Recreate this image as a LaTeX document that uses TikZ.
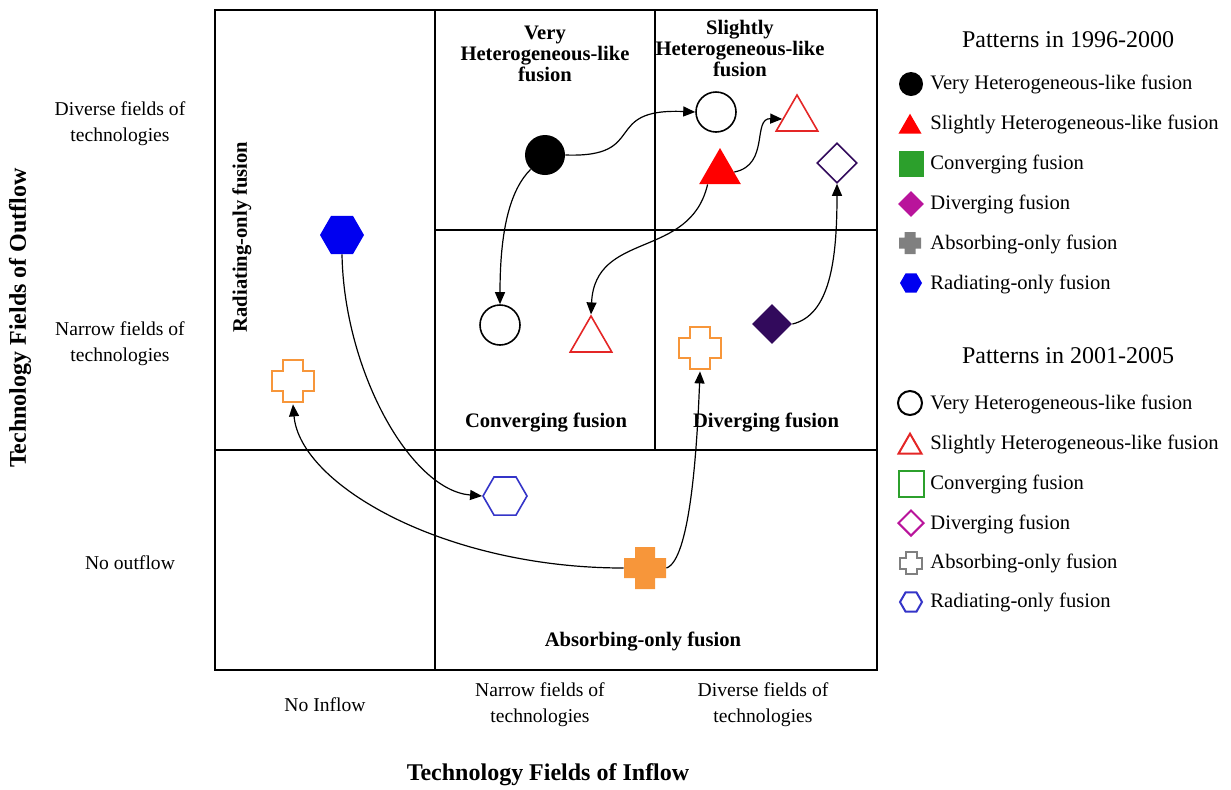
\documentclass[tikz,border=0pt]{standalone}
\usepackage{fontspec}
\setmainfont{Liberation Serif}
\usepackage{tikz}
\usetikzlibrary{shapes.geometric, arrows.meta, positioning, calc}
\definecolor{shred}{RGB}{255, 0, 0}
\definecolor{shredline}{RGB}{228, 38, 38}
\definecolor{convgreen}{RGB}{44, 160, 44}
\definecolor{divmagenta}{RGB}{185, 20, 155}
\definecolor{divpurple}{RGB}{50, 10, 92}
\definecolor{absgray}{RGB}{128, 128, 128}
\definecolor{absorange}{RGB}{247, 150, 58}
\definecolor{radblue}{RGB}{0, 0, 240}
\definecolor{radblueline}{RGB}{52, 52, 200}

% plus outline around a named node: style, node, outer half, arm half
\newcommand{\plusat}[4]{%
    \draw[#1, shift={(#2.center)}] (-#4,#3) -- (#4,#3) -- (#4,#4) -- (#3,#4) -- (#3,-#4) -- (#4,-#4)
        -- (#4,-#3) -- (-#4,-#3) -- (-#4,-#4) -- (-#3,-#4) -- (-#3,#4) -- (-#4,#4) -- cycle;}

\begin{document}
\begin{tikzpicture}[
    x=0.5pt, y=0.5pt,
    frame/.style={line width=1.2pt},
    link/.style={line width=0.6pt, -{Triangle[length=6pt,width=5pt]}},
    celltitle/.style={font=\bfseries\fontsize{10.3}{10.5}\selectfont, align=center},
    axislabel/.style={font=\fontsize{9.8}{13}\selectfont, align=center},
    axistitle/.style={font=\bfseries\fontsize{12}{14}\selectfont},
    legtitle/.style={font=\fontsize{12}{14}\selectfont},
    legtext/.style={font=\fontsize{10.3}{12}\selectfont, anchor=west, inner sep=0pt},
    circ/.style={circle, inner sep=0pt, minimum size=20pt},
    tri/.style={regular polygon, regular polygon sides=3, inner sep=0pt, minimum size=24pt},
    dia/.style={diamond, inner sep=0pt, minimum size=20pt},
    hexa/.style={regular polygon, regular polygon sides=6, inner sep=0pt, minimum size=22pt},
    plusbox/.style={inner sep=0pt, minimum size=21pt},
    smallcirc/.style={circle, inner sep=0pt, minimum size=12pt},
    smalltri/.style={regular polygon, regular polygon sides=3, inner sep=0pt, minimum size=13.3pt},
    smallsq/.style={rectangle, inner sep=0pt, minimum width=12.5pt, minimum height=13pt},
    smalldia/.style={diamond, inner sep=0pt, minimum size=13pt},
    smallhexa/.style={regular polygon, regular polygon sides=6, inner sep=0pt, minimum size=11pt},
    smallplus/.style={inner sep=0pt, minimum size=11pt}
]
    \useasboundingbox (0,0) rectangle (1231,-789);

    % Grid
    \draw[frame] (215,-10) rectangle (877,-670);
    \draw[frame] (435,-10) -- (435,-670);
    \draw[frame] (655,-10) -- (655,-450);
    \draw[frame] (435,-230) -- (877,-230);
    \draw[frame] (215,-450) -- (877,-450);

    % Cell titles
    \node[celltitle] (vhtitle) at (545,-54) {Very\\Heterogeneous-like\\fusion};
    \node[celltitle] (shtitle) at (740,-48) {Slightly\\Heterogeneous-like\\fusion};
    \node[celltitle] (cvtitle) at (546,-423) {Converging fusion};
    \node[celltitle] (dvtitle) at (766,-423) {Diverging fusion};
    \node[celltitle] (abtitle) at (643,-642) {Absorbing-only fusion};
    \node[celltitle, rotate=90] (rotitle) at (242,-237) {Radiating-only fusion};

    % Axes
    \node[axislabel] (ydiverse) at (120,-124) {Diverse fields of\\technologies};
    \node[axislabel] (ynarrow) at (120,-344) {Narrow fields of\\technologies};
    \node[axislabel] (ynone) at (130,-563) {No outflow};
    \node[axislabel] (xnone) at (325,-705) {No Inflow};
    \node[axislabel] (xnarrow) at (540,-705) {Narrow fields of\\technologies};
    \node[axislabel] (xdiverse) at (763,-705) {Diverse fields of\\technologies};
    \node[axistitle] (xtitle) at (548,-775) {Technology Fields of Inflow};
    \node[axistitle, rotate=90] (ytitle) at (20,-318) {Technology Fields of Outflow};

    % Patterns 1996-2000
    \node[circ, fill=black] (vhold) at (545,-155) {};
    \node[tri, fill=shred] (shold) at (720,-172) {};
    \node[dia, fill=divpurple] (dvold) at (772,-324) {};
    \node[hexa, fill=radblue] (roold) at (342,-235) {};
    \node[plusbox] (abold) at (645,-568) {};
    \plusat{fill=absorange, draw=none}{abold}{21}{10}

    % Patterns 2001-2005
    \node[circ, draw=black, line width=0.8pt] (vhnew) at (716,-112) {};
    \node[circ, draw=black, line width=0.8pt] (vhnewb) at (500,-325) {};
    \node[tri, draw=shredline, line width=0.8pt] (shnew) at (797,-119) {};
    \node[tri, draw=shredline, line width=0.8pt] (shnewb) at (591,-340) {};
    \node[dia, draw=divpurple, line width=0.8pt] (dvnew) at (837,-163) {};
    \node[hexa, draw=radblueline, line width=0.8pt] (ronew) at (505,-496) {};
    \node[plusbox] (abnew) at (293,-381) {};
    \plusat{draw=absorange, line width=0.8pt}{abnew}{21}{10}
    \node[plusbox] (abnewb) at (700,-348) {};
    \plusat{draw=absorange, line width=0.8pt}{abnewb}{21}{10}

    % Shifts
    \draw[link] (vhold.south west) .. controls (510,-190) and (500,-230) .. (vhnewb.north);
    \draw[link] (vhold.east) .. controls (650,-158) and (600,-108) .. (vhnew.west);
    \draw[link] (shold.south west) .. controls (690,-260) and (595,-230) .. (shnewb.north);
    \draw[link] (shold.east) .. controls (770,-165) and (752,-118) .. (shnew.west);
    \draw[link] (dvold.east) .. controls (830,-315) and (837,-260) .. (dvnew.south);
    \draw[link] (roold.south) .. controls (344,-370) and (410,-490) .. (ronew.west);
    \draw[link] (abold.west) .. controls (445,-568) and (300,-485) .. ($(abnew.south)+(0,-2)$);
    \draw[link] (abold.east) .. controls (690,-560) and (697,-450) .. ($(abnewb.south)+(0,-2)$);

    % Legend 1996-2000
    \node[legtitle] (legold) at (1068,-40) {Patterns in 1996-2000};
    \node[smallcirc, fill=black] (lgoa) at (911,-84) {};
    \node[legtext] (lgoatext) at (930,-84) {Very Heterogeneous-like fusion};
    \node[smalltri, fill=shred] (lgob) at (910,-127) {};
    \node[legtext] (lgobtext) at (930,-124) {Slightly Heterogeneous-like fusion};
    \node[smallsq, fill=convgreen] (lgoc) at (911,-164) {};
    \node[legtext] (lgoctext) at (930,-164) {Converging fusion};
    \node[smalldia, fill=divmagenta] (lgod) at (911,-204) {};
    \node[legtext] (lgodtext) at (930,-204) {Diverging fusion};
    \node[smallplus] (lgoe) at (910,-243) {};
    \plusat{fill=absgray, draw=none}{lgoe}{11}{5.5}
    \node[legtext] (lgoetext) at (930,-244) {Absorbing-only fusion};
    \node[smallhexa, fill=radblue] (lgof) at (911,-283) {};
    \node[legtext] (lgoftext) at (930,-284) {Radiating-only fusion};

    % Legend 2001-2005
    \node[legtitle] (legnew) at (1068,-356) {Patterns in 2001-2005};
    \node[smallcirc, draw=black, line width=1pt] (lgna) at (910,-403) {};
    \node[legtext] (lgnatext) at (930,-404) {Very Heterogeneous-like fusion};
    \node[smalltri, draw=shredline, line width=1pt] (lgnb) at (910,-447) {};
    \node[legtext] (lgnbtext) at (930,-444) {Slightly Heterogeneous-like fusion};
    \node[smallsq, draw=convgreen, line width=1pt] (lgnc) at (911,-484) {};
    \node[legtext] (lgnctext) at (930,-484) {Converging fusion};
    \node[smalldia, draw=divmagenta, line width=1pt] (lgnd) at (911,-523) {};
    \node[legtext] (lgndtext) at (930,-524) {Diverging fusion};
    \node[smallplus] (lgne) at (911,-563) {};
    \plusat{draw=absgray, line width=1pt}{lgne}{11}{5.5}
    \node[legtext] (lgnetext) at (930,-563) {Absorbing-only fusion};
    \node[smallhexa, draw=radblueline, line width=1pt] (lgnf) at (911,-602) {};
    \node[legtext] (lgnftext) at (930,-602) {Radiating-only fusion};

\end{tikzpicture}
\end{document}
